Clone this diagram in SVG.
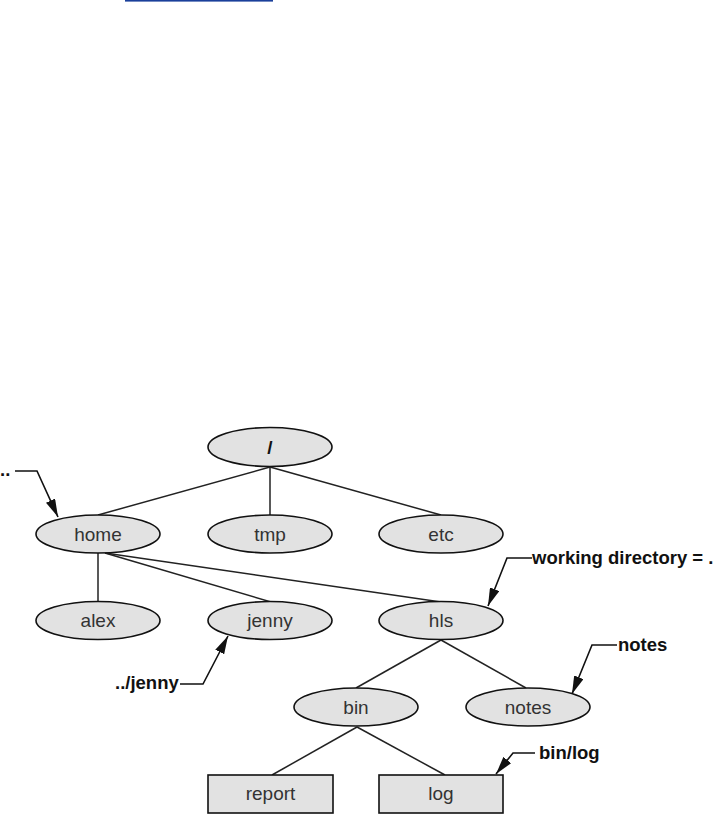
<svg xmlns="http://www.w3.org/2000/svg" width="721" height="815" viewBox="0 0 721 815">
<style>
.n ellipse, .n rect { fill: #e2e2e2; stroke: #111; stroke-width: 1.6; }
.n text { font-family: "Liberation Sans", Arial, sans-serif; font-size: 19px; fill: #333; text-anchor: middle; }
.edge { stroke: #222; stroke-width: 1.5; fill: none; }
.call { stroke: #111; stroke-width: 1.6; fill: none; marker-end: url(#arr); }
.lbl { font-family: "Liberation Sans", Arial, sans-serif; font-size: 18.5px; font-weight: bold; fill: #111; }
</style>
<defs>
<marker id="arr" viewBox="0 0 18 10" refX="18" refY="5" markerWidth="18" markerHeight="10" markerUnits="userSpaceOnUse" orient="auto">
<path d="M0,0 L18,5 L0,10 Z" fill="#111"/>
</marker>
</defs>
<rect x="125" y="0" width="148" height="1.6" fill="#1a3f9a"/>
<g id="connectors">
<line class="edge" x1="270" y1="467" x2="98" y2="515"/>
<line class="edge" x1="270" y1="467" x2="270" y2="515"/>
<line class="edge" x1="270" y1="467" x2="441" y2="515"/>
<line class="edge" x1="98" y1="553" x2="98" y2="602"/>
<line class="edge" x1="105" y1="553" x2="271" y2="602"/>
<line class="edge" x1="105" y1="553" x2="441" y2="602"/>
<line class="edge" x1="441" y1="640" x2="356" y2="688"/>
<line class="edge" x1="441" y1="640" x2="526" y2="688"/>
<line class="edge" x1="357" y1="727" x2="272" y2="775"/>
<line class="edge" x1="357" y1="727" x2="445" y2="775"/>
<polyline class="call" points="15,471 37,471 58,517"/>
<polyline class="call" points="180,684 203,684 228,636"/>
<polyline class="call" points="532,558 507,558 488,606"/>
<polyline class="call" points="617,645 592,645 572,694"/>
<polyline class="call" points="535,753 513,753 496,774"/>
</g>
<g id="root" class="n"><ellipse cx="270" cy="447" rx="62" ry="19.5"/><text x="270" y="454" style="font-weight:bold;fill:#111">/</text></g>
<g id="home" class="n"><ellipse cx="98" cy="534" rx="62" ry="19"/><text x="98" y="540.5">home</text></g>
<g id="tmp" class="n"><ellipse cx="270" cy="534" rx="62" ry="19"/><text x="270" y="540.5">tmp</text></g>
<g id="etc" class="n"><ellipse cx="441" cy="534" rx="62" ry="19"/><text x="441" y="540.5">etc</text></g>
<g id="alex" class="n"><ellipse cx="98" cy="620.5" rx="62" ry="19"/><text x="98" y="627">alex</text></g>
<g id="jenny" class="n"><ellipse cx="270" cy="620.5" rx="62" ry="19"/><text x="270" y="627">jenny</text></g>
<g id="hls" class="n"><ellipse cx="441" cy="620.5" rx="62" ry="19"/><text x="441" y="627">hls</text></g>
<g id="bin" class="n"><ellipse cx="356" cy="707" rx="62" ry="19"/><text x="356" y="713.5">bin</text></g>
<g id="notes" class="n"><ellipse cx="528" cy="707" rx="62" ry="19"/><text x="528" y="713.5">notes</text></g>
<g id="report" class="n"><rect x="208" y="775" width="125" height="38"/><text x="270.5" y="800">report</text></g>
<g id="log" class="n"><rect x="379" y="775" width="124" height="38"/><text x="441" y="800">log</text></g>
<g id="labels">
<text class="lbl" x="0" y="476">..</text>
<text class="lbl" x="115" y="689">../jenny</text>
<text class="lbl" x="532" y="564">working directory = .</text>
<text class="lbl" x="618" y="651">notes</text>
<text class="lbl" x="539" y="759">bin/log</text>
</g>
</svg>
